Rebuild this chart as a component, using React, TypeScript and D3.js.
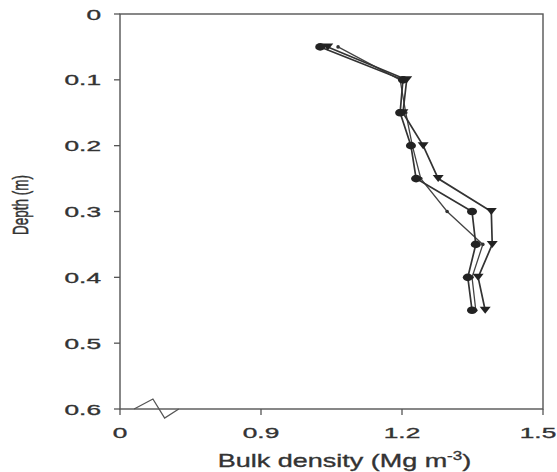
import React from "react";
import * as d3 from "d3";

const depths = [0.05, 0.1, 0.15, 0.2, 0.25, 0.3, 0.35, 0.4, 0.45];
const circleSeries = [1.026, 1.202, 1.196, 1.219, 1.23, 1.349, 1.357, 1.34, 1.349];
const triangleSeries = [1.042, 1.21, 1.202, 1.245, 1.277, 1.39, 1.392, 1.362, 1.377];
const smallSeries = [1.064, 1.196, 1.208, 1.222, 1.24, 1.296, 1.372, 1.349, 1.357];
const xTicks = [0.6, 0.9, 1.2, 1.5];
const xTickLabels = ["0", "0.9", "1.2", "1.5"];
const yTicks = [0, 0.1, 0.2, 0.3, 0.4, 0.5, 0.6];
const yTickLabels = ["0", "0.1", "0.2", "0.3", "0.4", "0.5", "0.6"];

const W = 557;
const H = 472;
const left = 120, right = 543, top = 14, bottom = 409;
const ink = "#333";
const font = "Liberation Sans, Arial, sans-serif";

export default function App() {
  const x = d3.scaleLinear().domain([0.6, 1.5]).range([left, right]);
  const y = d3.scaleLinear().domain([0, 0.6]).range([top, bottom]);
  const line = d3
    .line<[number, number]>()
    .x((d) => x(d[0]))
    .y((d) => y(d[1]));
  const mk = (vals: number[]) => vals.map((v, i) => [v, depths[i]] as [number, number]);

  const tri = (cx: number, cy: number, w: number, h: number) =>
    `M${cx - w / 2},${cy - h / 2}L${cx + w / 2},${cy - h / 2}L${cx},${cy + h / 2}Z`;

  // axis break zigzag, placed relative to scale
  const bx0 = x(0.63), bx1 = x(0.67), bx2 = x(0.695), bx3 = x(0.725);
  const zig = `M${bx0},${bottom}L${bx1},${bottom - 10}L${bx2},${bottom + 9}L${bx3},${bottom}`;

  const textStyle = { stroke: ink, strokeWidth: 0.35 } as React.CSSProperties;

  return (
    <svg
      width={W}
      height={H}
      style={{ position: "absolute", left: 0, top: 0, background: "#fff" }}
    >
      <rect x={0} y={0} width={W} height={H} fill="#fff" />
      {/* frame */}
      <rect
        x={left}
        y={top}
        width={right - left}
        height={bottom - top}
        fill="none"
        stroke="#555"
        strokeWidth={1.4}
      />
      {/* y ticks */}
      {yTicks.map((t, i) => (
        <g key={"y" + i}>
          <line x1={left - 6} x2={left} y1={y(t)} y2={y(t)} stroke="#555" strokeWidth={1.3} />
          <text
            transform={`translate(${left - 19},${y(t) + 5.5}) scale(1.75,1)`}
            textAnchor="end"
            fontFamily={font}
            fontSize={15}
            fill={ink}
            style={textStyle}
          >
            {yTickLabels[i]}
          </text>
        </g>
      ))}
      {/* x ticks */}
      {xTicks.map((t, i) => (
        <g key={"x" + i}>
          <line x1={x(t)} x2={x(t)} y1={bottom} y2={bottom + 6} stroke="#555" strokeWidth={1.3} />
          <text
            transform={`translate(${Math.min(x(t), W - 19)},${bottom + 29}) scale(1.75,1)`}
            textAnchor="middle"
            fontFamily={font}
            fontSize={15}
            fill={ink}
            style={textStyle}
          >
            {xTickLabels[i]}
          </text>
        </g>
      ))}
      <path d={zig} fill="none" stroke="#555" strokeWidth={1.3} />
      {/* axis titles */}
      <text
        transform={`translate(${(left + right) / 2 + 13},${H - 5}) scale(1.42,1)`}
        textAnchor="middle"
        fontFamily={font}
        fontSize={19}
        fill={ink}
        style={textStyle}
      >
        Bulk density (Mg m
        <tspan fontSize={12} dy={-7}>-3</tspan>
        <tspan dy={7}>)</tspan>
      </text>
      <text
        transform={`translate(${28},${205}) scale(1.6,1) rotate(-90)`}
        textAnchor="middle"
        fontFamily={font}
        fontSize={13.5}
        fill={ink}
        style={textStyle}
      >
        Depth (m)
      </text>
      {/* series lines */}
      <path d={line(mk(smallSeries)) || ""} fill="none" stroke="#444" strokeWidth={1.3} />
      <path d={line(mk(triangleSeries)) || ""} fill="none" stroke="#333" strokeWidth={1.7} />
      <path d={line(mk(circleSeries)) || ""} fill="none" stroke="#333" strokeWidth={1.7} />
      {/* markers */}
      {smallSeries.map((v, i) => (
        <circle key={"s" + i} cx={x(v)} cy={y(depths[i])} r={1.8} fill="#333" />
      ))}
      {triangleSeries.map((v, i) => (
        <path key={"t" + i} d={tri(x(v), y(depths[i]), 11, 7)} fill="#222" />
      ))}
      {circleSeries.map((v, i) => (
        <ellipse key={"c" + i} cx={x(v)} cy={y(depths[i])} rx={5} ry={3.8} fill="#222" />
      ))}
    </svg>
  );
}
